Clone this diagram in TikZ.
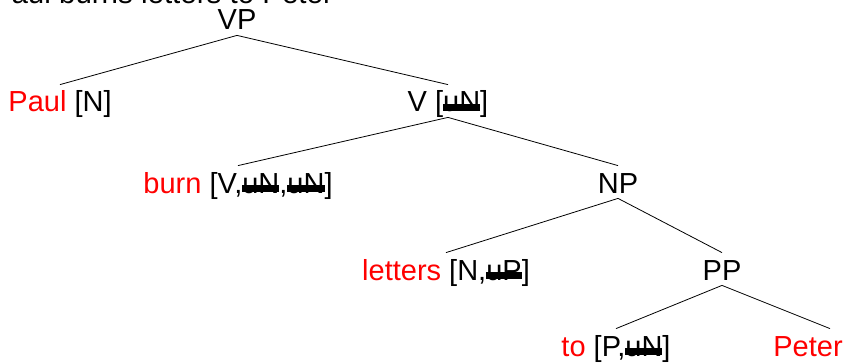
\documentclass[tikz,border=0pt]{standalone}
\usepackage{fontspec}
\setmainfont{Liberation Sans}
\usepackage{tikz}
\usetikzlibrary{calc}
\newcommand{\struck}[1]{\setbox0\hbox{#1}\rlap{\rule[0.05ex]{\wd0}{0.5ex}}\box0}

\begin{document}
\begin{tikzpicture}[x=1pt,y=1pt,line width=0.8pt,
cat/.style={anchor=base,inner sep=0pt,text height=27pt,text depth=5pt,font=\fontsize{29}{33}\selectfont},
lex/.style={text=red}]
\clip (0,0) rectangle (845,362);
\node[cat,anchor=base west,font=\fontsize{29.5}{33}\selectfont] (sent) at (-8.5,358) {Paul burns letters to Peter};
\node[cat] (vp) at (237,332) {VP};
\node[cat] (paul) at (60,250) {\textcolor{red}{Paul} [N]};
\node[cat] (v) at (448,250) {V [\struck{uN}]};
\node[cat] (burn) at (238,169) {\textcolor{red}{burn} [V,\struck{uN},\struck{uN}]};
\node[cat] (np) at (618,169) {NP};
\node[cat] (letters) at (446,82) {\textcolor{red}{letters} [N,\struck{uP}]};
\node[cat] (pp) at (722,82) {PP};
\node[cat] (to) at (616,6) {\textcolor{red}{to} [P,\struck{uN}]};
\node[cat,lex] (peter) at (808,6) {Peter};
\foreach \a/\b in {vp/paul,vp/v,v/burn,v/np,np/letters,np/pp,pp/to} {
   \draw (\a.south) -- (\b.north);
}
\draw (pp.south) -- ($(peter.north)+(22,0)$);
\end{tikzpicture}
\end{document}
